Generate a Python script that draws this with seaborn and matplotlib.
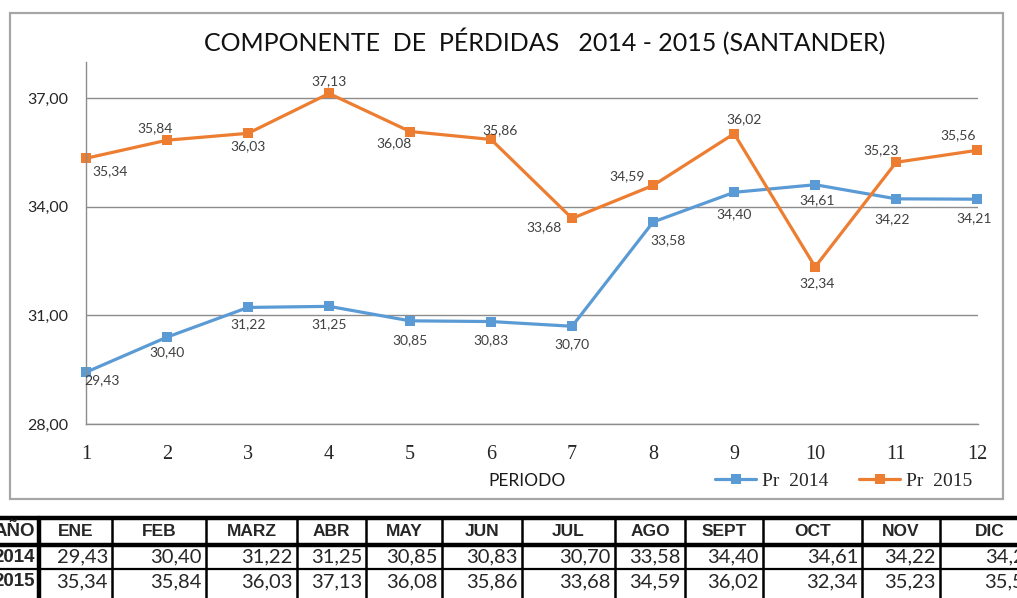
import matplotlib
matplotlib.use("Agg")
import matplotlib.pyplot as plt
import seaborn as sns
import pandas as pd
from matplotlib.patches import Rectangle
from matplotlib.ticker import FixedLocator, FuncFormatter

# datos
periodo = list(range(1, 13))
meses = ['ENE', 'FEB', 'MARZ', 'ABR', 'MAY', 'JUN', 'JUL', 'AGO', 'SEPT', 'OCT', 'NOV', 'DIC']
pr_2014 = [29.43, 30.40, 31.22, 31.25, 30.85, 30.83, 30.70, 33.58, 34.40, 34.61, 34.22, 34.21]
pr_2015 = [35.34, 35.84, 36.03, 37.13, 36.08, 35.86, 33.68, 34.59, 36.02, 32.34, 35.23, 35.56]
series = ['Pr  2014', 'Pr  2015']
y_ticks = [28, 31, 34, 37]


def coma(v):
    return f'{v:.2f}'.replace('.', ',')


sns.set_style('white')
plt.rcParams['font.family'] = ['Lato', 'DejaVu Sans']

df = pd.DataFrame({
    'Periodo': periodo * 2,
    'Valor': pr_2014 + pr_2015,
    'Serie': [series[0]] * 12 + [series[1]] * 12,
})

W, H = 1017, 598
fig = plt.figure(figsize=(W / 100, H / 100), dpi=100)

# fondo: marco del grafico y tabla
bg = fig.add_axes([0, 0, 1, 1], zorder=0)
bg.set_xlim(0, W)
bg.set_ylim(H, 0)
bg.axis('off')
bg.add_patch(Rectangle((10, 13), 993, 486, fill=False, ec='#a6a6a6', lw=1.6))

# eje principal
ax = fig.add_axes([86 / W, 1 - 424 / H, 892 / W, 362 / H], zorder=2)
ax.patch.set_alpha(0)
colores = ['#5b9bd5', '#ed7d31']
sns.lineplot(data=df, x='Periodo', y='Valor', hue='Serie', palette=colores,
             marker='s', markersize=7.5, markeredgewidth=0, lw=2.3, ax=ax, legend=False)
for ln in ax.lines:
    ln.set_clip_on(False)

ax.set_xlim(1, 12.01)
ax.set_ylim(28, 38)
ax.yaxis.set_major_locator(FixedLocator(y_ticks))
ax.yaxis.set_major_formatter(FuncFormatter(lambda v, p: coma(v)))
ax.set_xticks(periodo)
ax.grid(axis='y', color='#8c8c8c', lw=1)
ax.grid(axis='x', visible=False)
for s in ['top', 'right']:
    ax.spines[s].set_visible(False)
for s in ['left', 'bottom']:
    ax.spines[s].set_color('#8c8c8c')
    ax.spines[s].set_linewidth(1)
ax.tick_params(axis='y', length=5, width=1, color='#8c8c8c', pad=8, labelsize=11.5, labelcolor='#262626')
ax.tick_params(axis='x', length=6, width=1, color='#8c8c8c', pad=9, labelsize=14.5)
for t in ax.get_xticklabels():
    t.set_family('Liberation Serif')
ax.set_xlabel('')
ax.set_ylabel('')

# etiquetas de datos (desplazamientos en pixeles)
off_2014 = [(16, -8), (0, -15), (0, -17), (0, -18), (0, -19), (0, -19),
            (0, -18), (15, -18), (0, -22), (2, -15), (-4, -20), (-3, -19)]
off_2015 = [(24, -13), (-12, 12), (0, -13), (0, 12), (-16, -12), (9, 9),
            (-28, -9), (-26, 9), (10, 15), (2, -16), (-15, 12), (-19, 15)]
for vals, offs in [(pr_2014, off_2014), (pr_2015, off_2015)]:
    for x, v, (dx, dy) in zip(periodo, vals, offs):
        ax.annotate(coma(v), (x, v), xytext=(dx, dy), textcoords='offset pixels',
                    ha='center', va='center', fontsize=10, color='#404040',
                    annotation_clip=False)

# titulo, eje x y leyenda
fig.text(545 / W, 1 - 42 / H, 'COMPONENTE  DE  PÉRDIDAS   2014 - 2015 (SANTANDER)',
         ha='center', va='center', fontsize=18, color='#111111')
fig.text(527 / W, 1 - 481 / H, 'PERIODO', ha='center', va='center', fontsize=12.5, color='#1a1a1a')
fig.legend(ax.lines[:2], series, loc='center right', bbox_to_anchor=(982 / W, 1 - 481 / H),
           ncol=2, frameon=False, prop={'family': 'Liberation Serif', 'size': 14},
           handlelength=2.1, columnspacing=1.6, handletextpad=0.3, borderpad=0)

# tabla inferior
bordes = [39, 112, 206, 297, 366, 442, 522, 615, 685, 763, 862, 940, 1040]
filas_y = [518, 545, 569]
centros_y = [532, 557, 582]
bg.plot([-5, W + 5], [filas_y[0]] * 2, color='black', lw=3.2)
bg.plot([-5, W + 5], [filas_y[1]] * 2, color='black', lw=3.2)
bg.plot([-5, W + 5], [filas_y[2]] * 2, color='black', lw=1.6)
for i, xb in enumerate(bordes[:-1]):
    bg.plot([xb, xb], [filas_y[0], H + 5], color='black', lw=3.2 if i == 0 else 1.8)

bg.text(35, centros_y[0], 'AÑO', ha='right', va='center', fontsize=13.5,
        family='Liberation Sans', weight='bold')
bg.text(35, centros_y[1], '2014', ha='right', va='center', fontsize=13.5,
        family='Liberation Sans', weight='bold')
bg.text(35, centros_y[2], '2015', ha='right', va='center', fontsize=13.5,
        family='Liberation Sans', weight='bold')
for i, mes in enumerate(meses):
    x0, x1 = bordes[i], bordes[i + 1]
    bg.text((x0 + x1) / 2, centros_y[0], mes, ha='center', va='center', fontsize=12.5,
            family='Liberation Sans', weight='bold')
    bg.text(x1 - 4, centros_y[1], coma(pr_2014[i]), ha='right', va='center', fontsize=14.5)
    bg.text(x1 - 4, centros_y[2], coma(pr_2015[i]), ha='right', va='center', fontsize=14.5)

fig.savefig('out.png', dpi=100)
